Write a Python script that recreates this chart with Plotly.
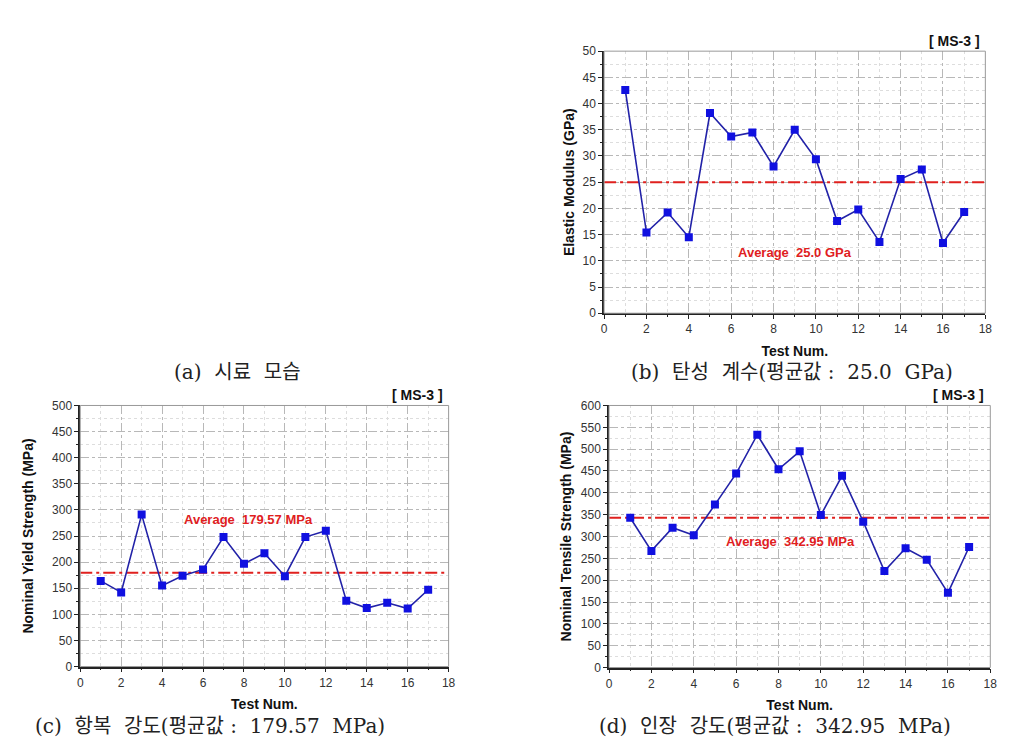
import plotly.graph_objects as go

test_num = list(range(1, 18))
elastic_modulus = [42.6, 15.4, 19.2, 14.5, 38.2, 33.7, 34.5, 28.0, 35.0, 29.4, 17.6, 19.8, 13.6, 25.6, 27.4, 13.4, 19.3]
yield_strength = [164, 142, 291, 155, 174, 186, 248, 197, 217, 173, 248, 260, 126, 112, 122, 111, 147]
tensile_strength = [343, 267, 320, 303, 373, 444, 533, 454, 495, 349, 439, 334, 221, 273, 247, 171, 276]
avg_elastic = 25.0
avg_yield = 179.57
avg_tensile = 342.95
x_range = [0, 18]
NB = "\u00a0"
captions = ["(a)" + NB + " 시료" + NB + " 모습",
            "(b)" + NB + " 탄성" + NB + " 계수(평균값" + NB + ":" + NB + " 25.0" + NB + " GPa)",
            "(c)" + NB + " 항복" + NB + " 강도(평균값" + NB + ":" + NB + " 179.57" + NB + " MPa)",
            "(d)" + NB + " 인장" + NB + " 강도(평균값" + NB + ":" + NB + " 342.95" + NB + " MPa)"]
y_titles = ["Elastic Modulus (GPa)", "Nominal Yield Strength (MPa)", "Nominal Tensile Strength (MPa)"]
avg_texts = ["Average  25.0 GPa", "Average  179.57 MPa", "Average  342.95 MPa"]

W, H = 1028, 755
def px(x): return x / W
def py(y): return 1 - y / H

panels = [
    dict(vals=elastic_modulus, avg=avg_elastic, yr=[0, 50], dt=5, box=(607, 992, 45, 312),
         ytitle=y_titles[0], atext=avg_texts[0], apos=(9.0, 11.6), ystand=5),
    dict(vals=yield_strength, avg=avg_yield, yr=[0, 500], dt=50, box=(78, 450, 406, 672),
         ytitle=y_titles[1], atext=avg_texts[1], apos=(8.2, 281), ystand=15),
    dict(vals=tensile_strength, avg=avg_tensile, yr=[0, 600], dt=50, box=(612, 997, 406, 673),
         ytitle=y_titles[2], atext=avg_texts[2], apos=(8.55, 288), ystand=6),
]

fig = go.Figure()
layout = dict(width=W, height=H, margin=dict(l=0, r=0, t=0, b=0), paper_bgcolor="white",
              plot_bgcolor="white", showlegend=False, annotations=[], shapes=[])
tickfont = dict(family="Liberation Sans, Arial", size=12, color="#333333")
titlefont = dict(family="Liberation Sans, Arial", size=14, color="#111111")

for i, p in enumerate(panels):
    n = "" if i == 0 else str(i + 1)
    xa, ya = "x" + n, "y" + n
    x0, x1, y0, y1 = p["box"]
    fig.add_trace(go.Scatter(x=x_range, y=[p["avg"], p["avg"]], mode="lines", xaxis=xa, yaxis=ya,
                             line=dict(color="#e0201e", width=2, dash="12px,4px,3px,4px")))
    fig.add_trace(go.Scatter(x=test_num, y=p["vals"], mode="lines+markers", xaxis=xa, yaxis=ya,
                             line=dict(color="#2222a8", width=1.6),
                             marker=dict(symbol="square", size=8, color="#1010e0")))
    common = dict(showline=True, linecolor="#222222", linewidth=1.5, mirror=False,
                  ticks="outside", ticklen=4, tickcolor="#222222", tickfont=tickfont,
                  showgrid=True, gridcolor="#b8b8b8", griddash="dashdot", gridwidth=1,
                  zeroline=False)
    layout["xaxis" + n] = dict(common, domain=[px(x0), px(x1)], anchor=ya, range=x_range, dtick=2,
                               tick0=0,
                               minor=dict(dtick=1, ticks="outside", ticklen=2, tickcolor="#222222",
                                          showgrid=True, gridcolor="#dddddd", griddash="dot"),
                               title=dict(text="<b>Test Num.</b>", font=titlefont, standoff=11))
    layout["yaxis" + n] = dict(common, domain=[py(y1), py(y0)], anchor=xa, range=p["yr"], dtick=p["dt"],
                               tick0=0,
                               minor=dict(dtick=p["dt"] / 2, ticks="outside", ticklen=2, tickcolor="#222222",
                                          showgrid=True, gridcolor="#dddddd", griddash="dot"),
                               title=dict(text="<b>" + p["ytitle"] + "</b>", font=titlefont,
                                          standoff=p["ystand"]))
    layout["shapes"].append(dict(type="rect", xref=xa + " domain", yref=ya + " domain",
                                 x0=0, x1=1, y0=0, y1=1, line=dict(color="#999999", width=1)))
    layout["annotations"].append(dict(text="<b>[ MS-3 ]</b>", xref=xa + " domain", yref=ya + " domain",
                                      x=0.99, y=1.0, xanchor="right", yanchor="bottom", showarrow=False,
                                      font=dict(family="Liberation Sans, Arial", size=14, color="#111111")))
    layout["annotations"].append(dict(text="<b>" + p["atext"] + "</b>", xref=xa, yref=ya,
                                      x=p["apos"][0], y=p["apos"][1], showarrow=False,
                                      font=dict(family="Liberation Sans, Arial", size=13, color="#e0201e")))

cap_pos = [(237, 372), (797, 372), (209, 733), (780, 733)]
for c, (cx, cy) in zip(captions, cap_pos):
    layout["annotations"].append(dict(text=c, xref="paper", yref="paper", x=px(cx), y=py(cy),
                                      xanchor="center", yanchor="middle", showarrow=False,
                                      font=dict(family="DejaVu Serif, Noto Sans CJK KR", size=20,
                                                color="#222222")))

fig.update_layout(**layout)
fig.write_html("out.html")
